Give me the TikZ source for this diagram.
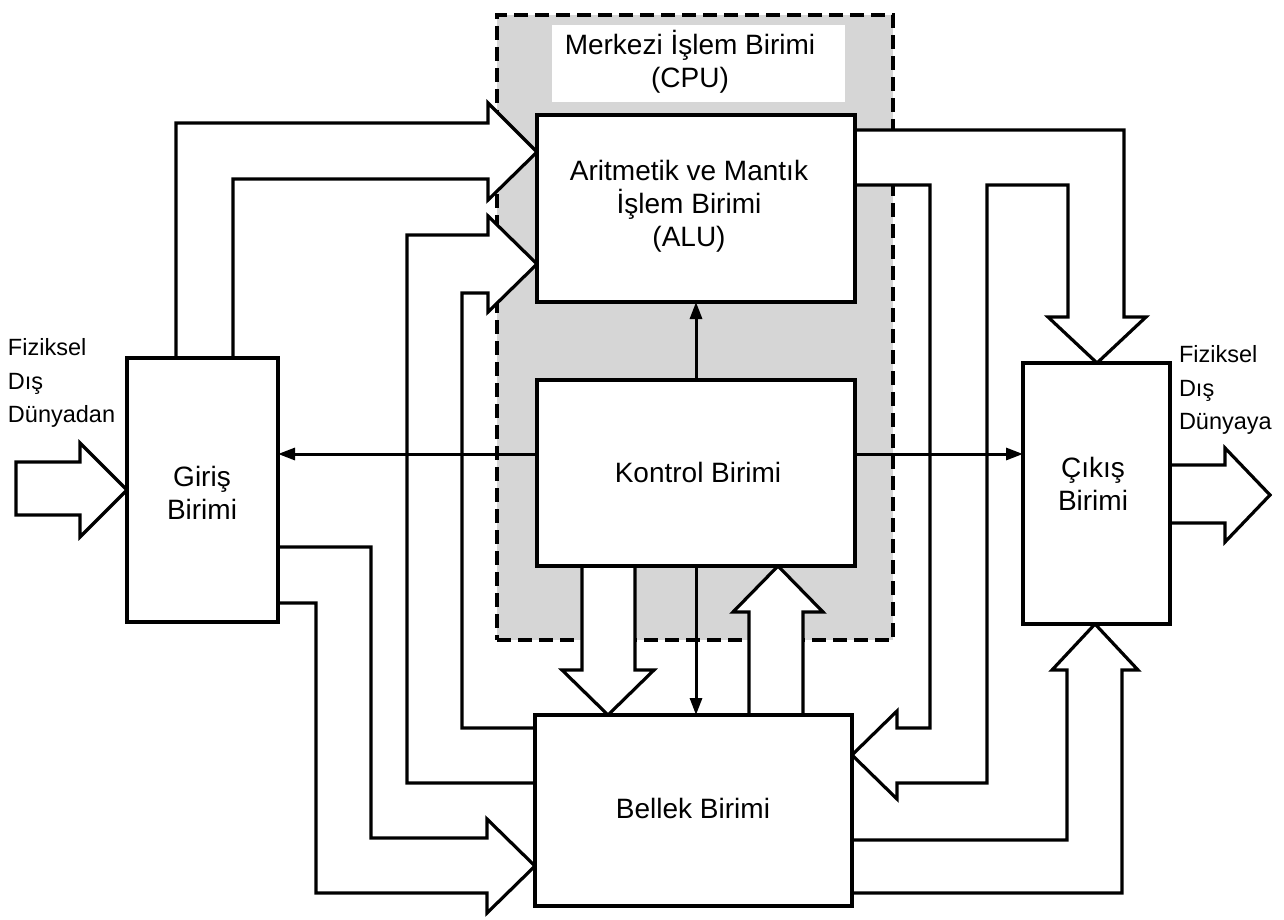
\documentclass[tikz,border=0pt]{standalone}
\usepackage{fontspec}
\setmainfont{Liberation Sans}
\usetikzlibrary{arrows.meta}
\begin{document}
\begin{tikzpicture}[x=1pt,y=-1pt,
  every node/.style={inner sep=0pt, outer sep=0pt},
  box/.style={draw, fill=white, line width=3.2pt},
  blk/.style={draw, fill=white, line width=3.2pt, line join=miter},
  cpubox/.style={draw, line width=3.2pt, dash pattern=on 14pt off 7pt, fill=black!16},
  thinarrow/.style={line width=3pt, -{Triangle[length=17pt,width=12pt]}},
  lbl/.style={font=\fontsize{28}{33}\selectfont, align=center},
  side/.style={font=\fontsize{23.5}{33.5}\selectfont, align=left},
]
\useasboundingbox (0,0) rectangle (1284,920);

% CPU region
\node[cpubox, minimum width=396pt, minimum height=625pt] (cpu) at (695,327.5) {};
\fill[white] (552,25) rectangle (845,102);
\node[lbl] (cpulbl) at (690,62) {Merkezi İşlem Birimi\\(CPU)};

% block arrows
% input from outside
\draw[blk] (16,462) -- (80,462) -- (80,443) -- (127,490) -- (80,537) -- (80,515) -- (16,515) -- cycle;
% output to outside
\draw[blk] (1170,465) -- (1225,465) -- (1225,448) -- (1270,495) -- (1225,542) -- (1225,523) -- (1170,523) -- cycle;
% Giris -> ALU
\draw[blk] (176,358) -- (176,123) -- (488,123) -- (488,103) -- (537,152) -- (488,200) -- (488,179) -- (233,179) -- (233,358) -- cycle;
% Bellek -> ALU
\draw[blk] (535,783) -- (407,783) -- (407,235) -- (488,235) -- (488,216) -- (537,264) -- (488,312) -- (488,293) -- (462,293) -- (462,728) -- (535,728) -- cycle;
% Giris -> Bellek
\draw[blk] (278,547) -- (371,547) -- (371,838) -- (487,838) -- (487,819) -- (535,866) -- (487,913) -- (487,893) -- (316,893) -- (316,603) -- (278,603) -- cycle;
% ALU -> Cikis and ALU -> Bellek
\draw[blk] (855,130) -- (1124,130) -- (1124,317) -- (1146,317) -- (1097,363) -- (1048,317) -- (1068,317) -- (1068,185) -- (987,185) -- (987,783) -- (897,783) -- (897,799) -- (852,755) -- (897,711) -- (897,728) -- (930,728) -- (930,185) -- (855,185) -- cycle;
% Bellek -> Cikis
\draw[blk] (852,840) -- (1067,840) -- (1067,670) -- (1052,670) -- (1095,624) -- (1138,670) -- (1122,670) -- (1122,893) -- (852,893) -- cycle;
% Kontrol -> Bellek
\draw[blk] (582,566) -- (582,670) -- (562,670) -- (608,715) -- (654,670) -- (635,670) -- (635,566) -- cycle;
% Bellek -> Kontrol
\draw[blk] (749,715) -- (749,612) -- (733,612) -- (778,566) -- (823,612) -- (803,612) -- (803,715) -- cycle;

% boxes
\node[box, minimum width=151pt, minimum height=264pt] (giris) at (202.5,490) {};
\node[lbl] (girislbl) at (202,493) {Giriş\\Birimi};
\node[box, minimum width=147pt, minimum height=261pt] (cikis) at (1096.5,493.5) {};
\node[lbl] (cikislbl) at (1093,484) {Çıkış\\Birimi};
\node[box, minimum width=318pt, minimum height=187pt] (alu) at (696,208.5) {};
\node[lbl] (alulbl) at (689,206) {Aritmetik ve Mantık\\İşlem Birimi\\(ALU)};
\node[box, minimum width=318pt, minimum height=186pt] (kontrol) at (696,473) {};
\node[lbl] (kontrollbl) at (698,472) {Kontrol Birimi};
\node[box, minimum width=317pt, minimum height=191pt] (bellek) at (693.5,810.5) {};
\node[lbl] (belleklbl) at (693,808) {Bellek Birimi};

% side labels
\node[side, anchor=west] (inlbl) at (8,383) {Fiziksel\\Dış\\Dünyadan};
\node[side, anchor=west] (outlbl) at (1179,390) {Fiziksel\\Dış\\Dünyaya};

% thin control arrows
\coordinate (kl) at ([yshift=19pt]kontrol.west);
\coordinate (kr) at ([yshift=19pt]kontrol.east);
\draw[thinarrow] (kl) -- (kl -| giris.east);
\draw[thinarrow] (kr) -- (kr -| cikis.west);
\draw[thinarrow] (kontrol.north) -- (kontrol.north |- alu.south);
\draw[thinarrow] (kontrol.south) -- (kontrol.south |- bellek.north);
\end{tikzpicture}
\end{document}
